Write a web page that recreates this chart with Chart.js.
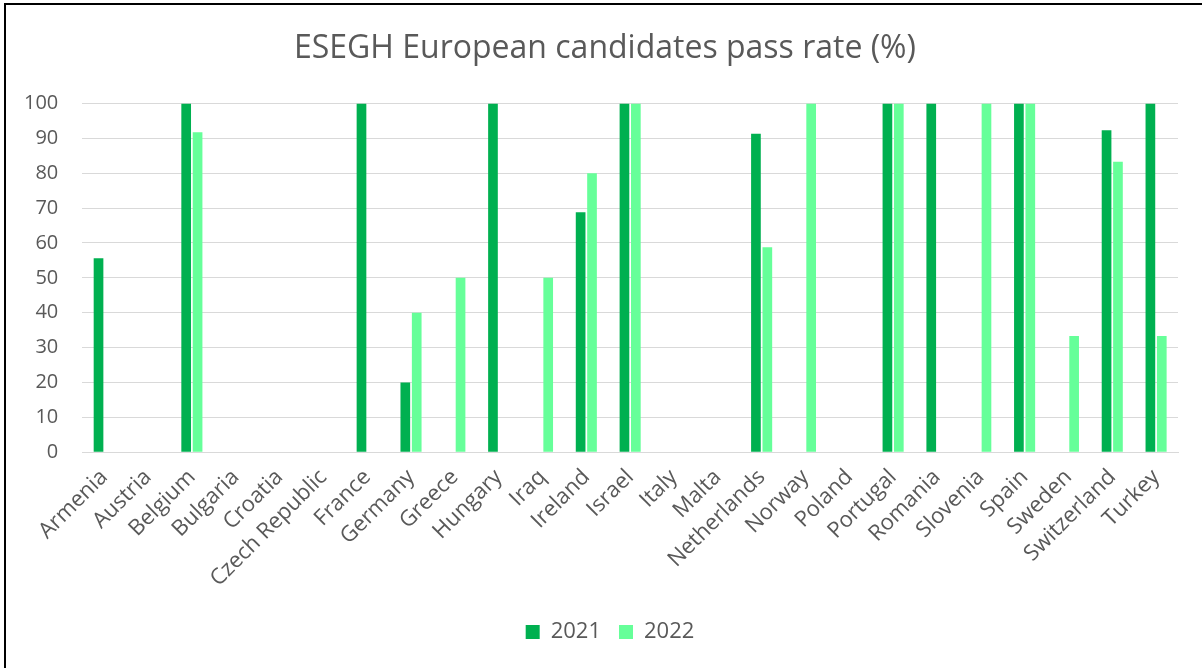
<!DOCTYPE html>
<html>
<head>
<meta charset="utf-8">
<script src="https://cdn.jsdelivr.net/npm/chart.js@4.4.1/dist/chart.umd.min.js"></script>
<style>
  html, body { margin: 0; padding: 0; background: #fff; overflow: hidden; }
  #wrap { position: relative; width: 1202px; height: 668px; }
  #frame {
    position: absolute; left: 4px; top: 3px; width: 1220px; height: 700px;
    border: 2px solid #000; pointer-events: none;
  }
</style>
</head>
<body>
<div id="wrap">
  <canvas id="chart" width="1202" height="668"></canvas>
  <div id="frame"></div>
</div>
<script>
// chart data
const countries = [
  'Armenia', 'Austria', 'Belgium', 'Bulgaria', 'Croatia', 'Czech Republic',
  'France', 'Germany', 'Greece', 'Hungary', 'Iraq', 'Ireland', 'Israel',
  'Italy', 'Malta', 'Netherlands', 'Norway', 'Poland', 'Portugal', 'Romania',
  'Slovenia', 'Spain', 'Sweden', 'Switzerland', 'Turkey'
];
const pass2021 = [
  55.6, null, 100, null, null, null,
  100, 20, null, 100, null, 68.8, 100,
  null, null, 91.3, null, null, 100, 100,
  null, 100, null, 92.3, 100
];
const pass2022 = [
  null, null, 91.7, null, null, null,
  null, 40, 50, null, 50, 80, 100,
  null, null, 58.8, 100, null, 100, null,
  100, 100, 33.3, 83.3, 33.3
];
const yTicks = [0, 10, 20, 30, 40, 50, 60, 70, 80, 90, 100];

const textGrey = '#595959';
const font = 'Open Sans';

// the Excel frame runs past the right edge, so title and legend sit a bit right of centre
const nudgeBlocks = {
  id: 'nudgeBlocks',
  afterLayout(chart) {
    chart.titleBlock.left += 16;
    chart.titleBlock.right += 16;
    chart.legend.left += 21;
    chart.legend.right += 21;
  },
};

const ctx = document.getElementById('chart');
new Chart(ctx, {
  type: 'bar',
  data: {
    labels: countries,
    datasets: [
      { label: '2021', data: pass2021, backgroundColor: '#00B050' },
      { label: '2022', data: pass2022, backgroundColor: '#66FF99' },
    ],
  },
  options: {
    responsive: false,
    animation: false,
    categoryPercentage: 0.52,
    barPercentage: 0.85,
    layout: { padding: { left: 0, right: 24, top: 8, bottom: 15 } },
    scales: {
      x: {
        grid: { display: false },
        border: { color: '#D9D9D9', width: 1 },
        afterCalculateLabelRotation: (axis) => { axis.labelRotation = 45; },
        afterFit: (axis) => {
          axis.paddingLeft = 0; // let Armenia hang left of the axis
          axis.height += 7;
        },
        ticks: {
          color: textGrey,
          font: { family: font, size: 22 },
          minRotation: 45,
          maxRotation: 45,
          autoSkip: false,
          padding: 4,
        },
      },
      y: {
        min: 0,
        max: 100,
        afterBuildTicks: (axis) => { axis.ticks = yTicks.map(v => ({ value: v })); },
        grid: { color: '#D9D9D9', lineWidth: 1, drawTicks: false },
        border: { display: false },
        ticks: {
          color: textGrey,
          font: { family: font, size: 20 },
          padding: 24,
        },
      },
    },
    plugins: {
      title: {
        display: true,
        text: 'ESEGH European candidates pass rate (%)',
        color: textGrey,
        font: { family: font, size: 32, weight: 'normal' },
        padding: { top: 22, bottom: 35 },
      },
      legend: {
        position: 'bottom',
        labels: {
          color: textGrey,
          font: { family: font, size: 22 },
          boxWidth: 14,
          boxHeight: 14,
          padding: 18,
        },
      },
      tooltip: { enabled: false },
    },
  },
  plugins: [nudgeBlocks],
});
</script>
</body>
</html>
